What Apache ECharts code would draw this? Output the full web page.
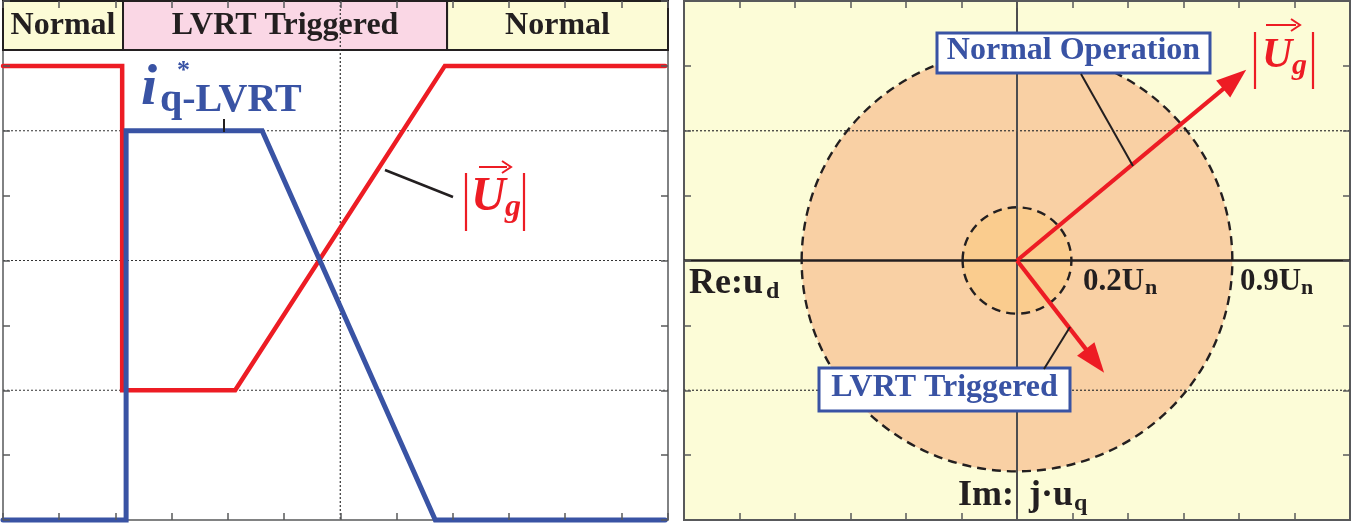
<!DOCTYPE html>
<html><head><meta charset="utf-8">
<script src="https://cdn.jsdelivr.net/npm/echarts@6/dist/echarts.min.js"></script>
<style>html,body{margin:0;padding:0;background:#fff}#c{width:1354px;height:523px}</style>
</head><body><div id="c"></div>
<script>
// ---------------- data (axis units) ----------------
// left panel: time axis 0..11.83 (tick = 1), value axis 0..8
const headerLabels = ['Normal', 'LVRT Triggered', 'Normal'];
const headerStart = [0, 2.135, 7.9];
const headerEnd = [2.135, 7.9, 11.83];
const headerBottom = 7.245;

const ugTime = [0, 2.12, 2.12, 4.13, 7.86, 11.78];
const ugValues = [7, 7, 2, 2, 7, 7];
const iqTime = [0, 2.19, 2.19, 4.61, 7.69, 11.78];
const iqValues = [0, 0, 6, 6, 0, 0];

const leftGridX = [6];
const leftGridY = [2, 4, 6];

// right panel: u_d axis -6..6, u_q axis -4..4
const circleLabels = ['0.9Un', '0.2Un'];
const circleRx = [3.88, 0.98];
const circleRy = [3.25, 0.82];
const vectorNames = ['Normal Operation', 'LVRT Triggered'];
const vectorUd = [4.13, 1.57];
const vectorUq = [2.94, -1.73];
const rightGridY = [-2, 2];
const rightAxes = [0];

// ---------------- styling ----------------
const RED = '#ED1C24', BLUE = '#3953A4', INK = '#231F20', GREY = '#58595B';
const headerFill = ['#FCFBD6', '#FAD7E5', '#FCFBD6'];
const SERIF = '"Liberation Serif","Times New Roman",serif';

const chart = echarts.init(document.getElementById('c'), null, {renderer: 'canvas'});

const tickStyle = {show: true, inside: true, length: 7, lineStyle: {color: GREY, width: 1.5}};
function ax(gridIndex, position, min, max) {
  return {type: 'value', gridIndex, position, min, max, interval: 1,
    axisLine: {show: false, onZero: false}, axisTick: tickStyle, axisLabel: {show: false},
    splitLine: {show: false}, z: 10};
}

function gridLineItem(params, api, dash, width, color) {
  const cs = params.coordSys;
  const orient = api.value(0), v = api.value(1);
  let shape;
  if (orient === 0) {
    const p = api.coord([v, 0]);
    shape = {x1: p[0], y1: cs.y, x2: p[0], y2: cs.y + cs.height};
  } else {
    const p = api.coord([0, v]);
    shape = {x1: cs.x, y1: p[1], x2: cs.x + cs.width, y2: p[1]};
  }
  return {type: 'line', shape, style: {stroke: color, lineWidth: width, lineDash: dash}};
}

// text helper: baseline-based placement
function T(text, x, baseline, size, weight, style, color, align) {
  return {type: 'text', z: 100, style: {text, x, y: baseline - 0.34 * size,
    font: (style || '') + ' ' + (weight || 'bold') + ' ' + size + 'px ' + SERIF,
    fill: color || INK, textAlign: align || 'left', textVerticalAlign: 'middle'}};
}
function L(x1, y1, x2, y2, color, w) {
  return {type: 'line', z: 100, shape: {x1, y1, x2, y2}, style: {stroke: color || INK, lineWidth: w || 2}};
}
function vecArrow(x1, x2, y, color) {
  return [L(x1, y, x2 - 4, y, color, 2),
    {type: 'polyline', z: 100, shape: {points: [[x2 - 9, y - 6], [x2, y], [x2 - 9, y + 6]]}, style: {stroke: color, lineWidth: 2, fill: null}}];
}
function box(x, y, w, h, label, size) {
  return [{type: 'rect', z: 99, shape: {x, y, width: w, height: h}, style: {fill: '#fff', stroke: BLUE, lineWidth: 3}},
    {type: 'text', z: 100, style: {text: label, x: x + w / 2, y: y + h / 2 - 2, font: 'bold ' + size + 'px ' + SERIF,
      fill: BLUE, textAlign: 'center', textVerticalAlign: 'middle'}}];
}

const graphics = [].concat(
  // left panel annotations
  [T('i', 141, 109, 58, 'bold', 'italic', BLUE), T('*', 177, 80, 26, 'bold', '', BLUE), T('q-LVRT', 160, 114, 40, 'bold', '', BLUE)],
  [L(224, 119, 224, 132, INK, 2)],
  [L(385, 170, 453, 197, INK, 2.5)],
  [L(466, 173, 466, 231, RED, 2.2), T('U', 471, 214, 48, 'bold', 'italic', RED), T('g', 505, 219, 32, 'bold', 'italic', RED), L(524, 173, 524, 231, RED, 2.2)],
  vecArrow(479, 511, 167, RED),
  // right panel annotations
  [L(1081, 74, 1133, 166, INK, 2), L(1070, 327, 1044, 369, INK, 2)],
  box(937, 33, 273, 40, vectorNames[0], 32),
  box(819, 368, 251, 43, vectorNames[1], 32),
  [T('Re:u', 689, 296, 36), T('d', 766, 300, 24)],
  [T('0.2U', 1083, 293, 31), T('n', 1145, 296, 22)],
  [T('0.9U', 1240, 293, 31), T('n', 1301, 296, 22)],
  [T('Im:', 958, 508, 36), T('j\u00B7u', 1029, 508, 36), T('q', 1074, 512, 24)],
  [L(1255, 32, 1255, 89, RED, 2.2), T('U', 1262, 70, 42, 'bold', 'italic', RED), T('g', 1292, 76, 30, 'bold', 'italic', RED), L(1313, 32, 1313, 89, RED, 2.2)],
  vecArrow(1266, 1300, 25, RED)
);

const option = {
  animation: false,
  grid: [
    {left: 3, top: 1, width: 665, height: 519, show: true, borderColor: GREY, borderWidth: 1.5, backgroundColor: '#fff'},
    {left: 684, top: 1, width: 666, height: 519, show: true, borderColor: GREY, borderWidth: 2, backgroundColor: '#FCFCD7'}
  ],
  xAxis: [ax(0, 'bottom', 0, 11.83), ax(0, 'top', 0, 11.83), ax(1, 'bottom', -6, 6), ax(1, 'top', -6, 6)],
  yAxis: [ax(0, 'left', 0, 8), ax(0, 'right', 0, 8), ax(1, 'left', -4, 4), ax(1, 'right', -4, 4)],
  series: [
    { // header band
      type: 'custom', name: 'header', xAxisIndex: 0, yAxisIndex: 0, z: 1, silent: true,
      data: headerLabels.map((l, i) => [headerStart[i], headerEnd[i]]),
      renderItem(params, api) {
        const i = params.dataIndex;
        const p0 = api.coord([api.value(0), 8]);
        const p1 = api.coord([api.value(1), headerBottom]);
        return {type: 'group', children: [
          {type: 'rect', shape: {x: p0[0], y: p0[1], width: p1[0] - p0[0], height: p1[1] - p0[1]},
            style: {fill: headerFill[i], stroke: INK, lineWidth: 2}},
          {type: 'text', style: {text: headerLabels[i], x: (p0[0] + p1[0]) / 2, y: (p0[1] + p1[1]) / 2,
            textAlign: 'center', textVerticalAlign: 'middle', font: 'bold 32px ' + SERIF, fill: INK}}
        ]};
      }
    },
    { // left dotted grid
      type: 'custom', name: 'gridL', xAxisIndex: 0, yAxisIndex: 0, z: 2, silent: true,
      data: leftGridX.map(v => [0, v]).concat(leftGridY.map(v => [1, v])),
      renderItem: (p, api) => gridLineItem(p, api, [2, 2], 1.2, '#333')
    },
    {
      type: 'line', name: '|Ug|', xAxisIndex: 0, yAxisIndex: 0, z: 3, clip: false, symbol: 'none',
      data: ugTime.map((t, i) => [t, ugValues[i]]),
      lineStyle: {color: RED, width: 4.5, cap: 'round', join: 'miter'}
    },
    {
      type: 'line', name: 'iq*', xAxisIndex: 0, yAxisIndex: 0, z: 4, clip: false, symbol: 'none',
      data: iqTime.map((t, i) => [t, iqValues[i]]),
      lineStyle: {color: BLUE, width: 5, cap: 'round', join: 'miter'}
    },
    { // voltage circles
      type: 'custom', name: 'circles', xAxisIndex: 2, yAxisIndex: 2, z: 1, silent: true,
      data: circleLabels.map((l, i) => [circleRx[i], circleRy[i]]),
      renderItem(params, api) {
        const c = api.coord([0, 0]);
        const e = api.coord([api.value(0), api.value(1)]);
        return {type: 'ellipse', shape: {cx: c[0], cy: c[1], rx: Math.abs(e[0] - c[0]), ry: Math.abs(e[1] - c[1])},
          style: {fill: params.dataIndex === 0 ? '#F9D0A4' : '#FACC8E', stroke: INK, lineWidth: 2.4, lineDash: [9, 6]}};
      }
    },
    { // right dotted grid
      type: 'custom', name: 'gridR', xAxisIndex: 2, yAxisIndex: 2, z: 2, silent: true,
      data: rightGridY.map(v => [1, v]),
      renderItem: (p, api) => gridLineItem(p, api, [2, 2], 1.2, '#333')
    },
    { // Re / Im axes
      type: 'custom', name: 'axesR', xAxisIndex: 2, yAxisIndex: 2, z: 2, silent: true,
      data: rightAxes.map(v => [0, v]).concat(rightAxes.map(v => [1, v])),
      renderItem: (p, api) => api.value(0) === 0 ? gridLineItem(p, api, null, 2, '#4D4D4F') : gridLineItem(p, api, null, 2.6, INK)
    },
    { // voltage vectors
      type: 'custom', name: 'vectors', xAxisIndex: 2, yAxisIndex: 2, z: 3, silent: true,
      data: vectorNames.map((n, i) => [vectorUd[i], vectorUq[i]]),
      renderItem(params, api) {
        const p0 = api.coord([0, 0]);
        const p1 = api.coord([api.value(0), api.value(1)]);
        const dx = p1[0] - p0[0], dy = p1[1] - p0[1], len = Math.hypot(dx, dy);
        const ux = dx / len, uy = dy / len, hl = 30, hw = 11;
        const b = [p1[0] - ux * hl, p1[1] - uy * hl];
        return {type: 'group', children: [
          {type: 'line', shape: {x1: p0[0], y1: p0[1], x2: b[0] + ux * 3, y2: b[1] + uy * 3}, style: {stroke: RED, lineWidth: 4.2}},
          {type: 'polygon', shape: {points: [p1, [b[0] - uy * hw, b[1] + ux * hw], [b[0] + uy * hw, b[1] - ux * hw]]}, style: {fill: RED}}
        ]};
      }
    }
  ],
  graphic: {elements: graphics}
};
chart.setOption(option);
</script></body></html>
